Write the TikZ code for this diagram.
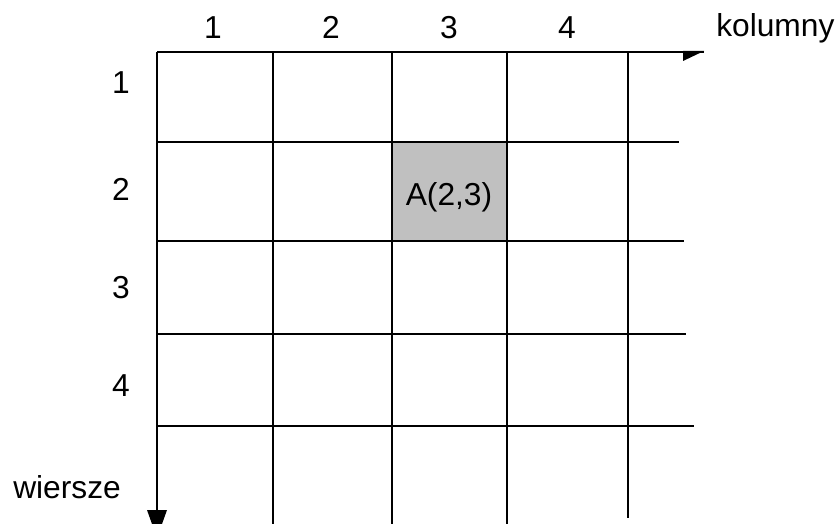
\documentclass[tikz,border=0pt]{standalone}
\usepackage{fontspec}
\setmainfont{Liberation Sans}
\definecolor{cellgray}{HTML}{C0C0C0}
\begin{document}
\begin{tikzpicture}[x=0.75pt,y=-0.75pt,
  gridline/.style={line width=1.5pt},
  lbl/.style={font=\fontsize{23.8}{28}\selectfont, inner sep=0pt, anchor=base},
  tipfill/.style={fill=black, draw=none}]
\clip (0,0) rectangle (839,524);
\fill[white] (0,0) rectangle (839,524);
% shaded cell
\fill[cellgray] (392,142) rectangle (507,241);
% horizontal lines
\coordinate (h0a) at (157,52);  \coordinate (h0b) at (704,52);
\coordinate (h1a) at (157,142); \coordinate (h1b) at (679,142);
\coordinate (h2a) at (157,241); \coordinate (h2b) at (684,241);
\coordinate (h3a) at (157,334); \coordinate (h3b) at (686,334);
\coordinate (h4a) at (157,426); \coordinate (h4b) at (694,426);
\foreach \n in {0,...,4} \draw[gridline] (h\n a) -- (h\n b);
% vertical lines
\coordinate (v0a) at (157,52); \coordinate (v0b) at (157,520);
\coordinate (v1a) at (273,52); \coordinate (v1b) at (273,524);
\coordinate (v2a) at (392,52); \coordinate (v2b) at (392,524);
\coordinate (v3a) at (507,52); \coordinate (v3b) at (507,524);
\coordinate (v4a) at (628,52); \coordinate (v4b) at (628,518);
\foreach \n in {0,...,4} \draw[gridline] (v\n a) -- (v\n b);
% arrowheads
\fill[tipfill] (683,51) -- (704,51) -- (683,61) -- cycle;
\fill[tipfill] (147,510) -- (167,510) -- (157,538) -- cycle;
% column labels
\node[lbl] (c1) at (213,39) {1};
\node[lbl] (c2) at (331,39) {2};
\node[lbl] (c3) at (449,39) {3};
\node[lbl] (c4) at (567,39) {4};
\node[lbl, anchor=base west] (kol) at (716,37) {kolumny};
% row labels
\node[lbl] (r1) at (121,94) {1};
\node[lbl] (r2) at (121,200) {2};
\node[lbl] (r3) at (121,298) {3};
\node[lbl] (r4) at (121,396) {4};
\node[lbl, anchor=base west] (wie) at (13,498) {wiersze};
% cell label
\node[lbl] (a23) at (449,205) {A(2,3)};
\end{tikzpicture}
\end{document}
